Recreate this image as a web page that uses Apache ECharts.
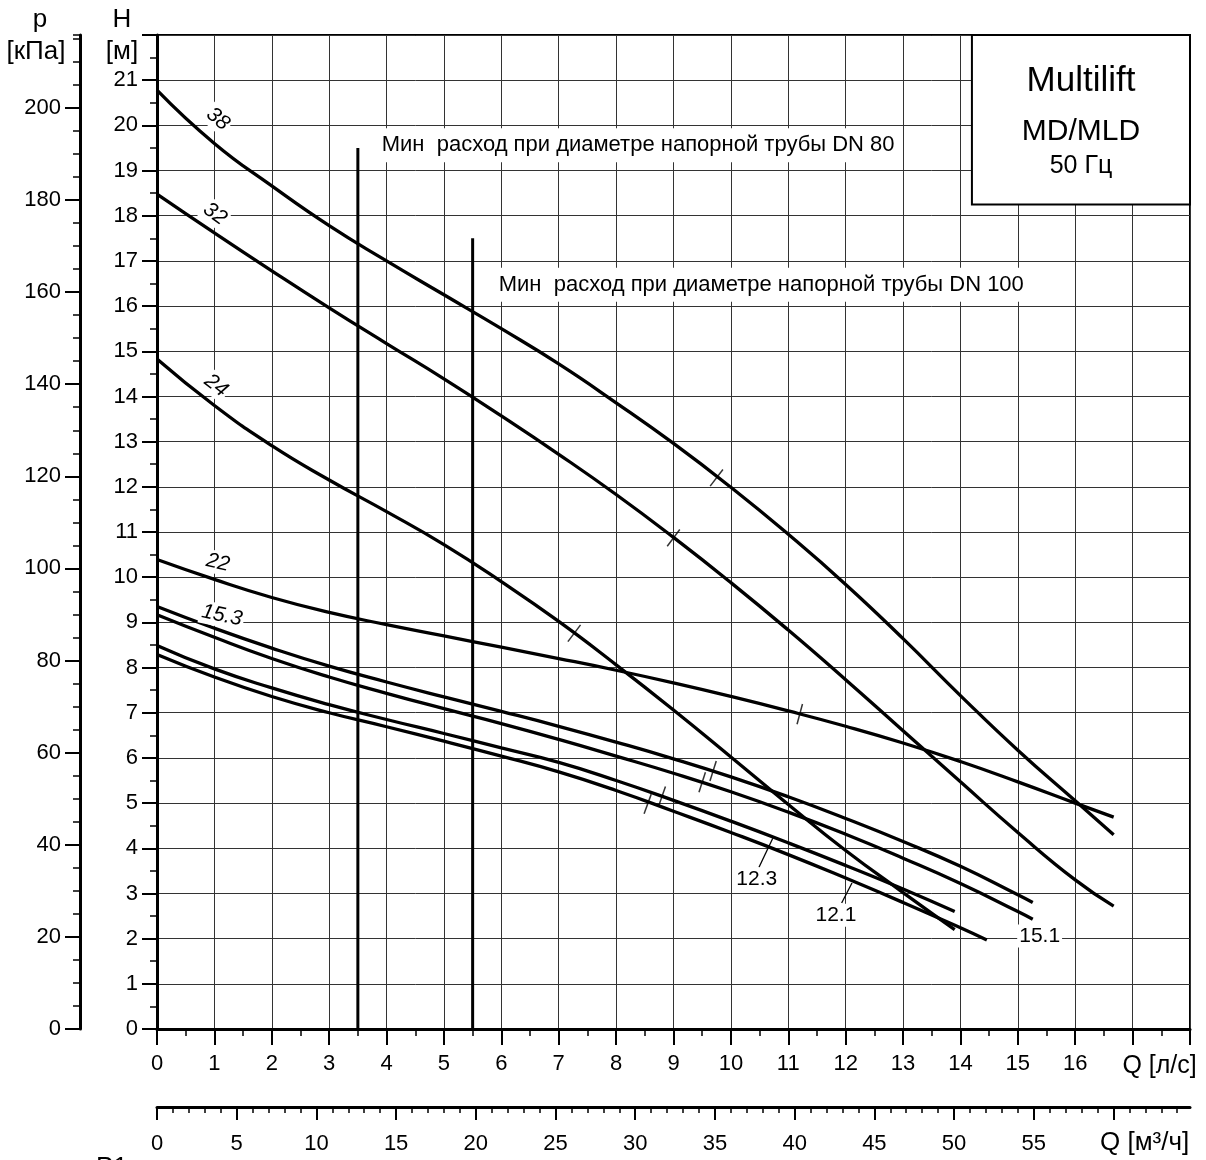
<!DOCTYPE html>
<html>
<head>
<meta charset="utf-8">
<script src="https://cdn.jsdelivr.net/npm/echarts@6/dist/echarts.min.js"></script>
<style>
  html, body { margin: 0; padding: 0; background: #fff; }
  #chart { width: 1206px; height: 1160px; }
</style>
</head>
<body>
<div id="chart"></div>
<script>
// pump curves, Q in l/s, H in m
var q38 = [0, 1, 2, 3, 4, 5, 6, 7, 8, 9, 10, 11, 12, 13, 14, 15, 16, 16.67];
var h38 = [20.78, 19.6, 18.66, 17.78, 17.0, 16.25, 15.5, 14.72, 13.86, 12.96, 11.99, 10.95, 9.84, 8.64, 7.38, 6.17, 5.05, 4.3];
var q32 = [0, 1, 2, 3, 4, 5, 6, 7, 8, 9, 10, 11, 12, 13, 14, 15, 16, 16.67];
var h32 = [18.48, 17.62, 16.78, 15.96, 15.17, 14.39, 13.57, 12.72, 11.83, 10.88, 9.88, 8.83, 7.73, 6.6, 5.47, 4.35, 3.3, 2.72];
var q24 = [0, 1, 2, 3, 4, 5, 6, 7, 8, 9, 10, 11, 12, 13, 13.9];
var h24 = [14.83, 13.8, 12.91, 12.15, 11.45, 10.72, 9.9, 9.02, 8.06, 7.06, 6.02, 4.97, 3.95, 3.02, 2.2];
var q22 = [0, 1, 2, 3, 4, 5, 6, 7, 8, 9, 10, 11, 12, 13, 14, 15, 16, 16.67];
var h22 = [10.39, 9.95, 9.55, 9.22, 8.95, 8.7, 8.45, 8.2, 7.94, 7.66, 7.36, 7.04, 6.7, 6.33, 5.92, 5.47, 5.0, 4.69];
var q153 = [0, 1, 2, 3, 4, 5, 6, 7, 8, 9, 10, 11, 12, 13, 14, 15, 15.26];
var h153 = [9.35, 8.87, 8.43, 8.03, 7.68, 7.35, 7.03, 6.7, 6.35, 5.98, 5.58, 5.14, 4.66, 4.15, 3.6, 2.97, 2.8];
var q151 = [0, 1, 2, 3, 4, 5, 6, 7, 8, 9, 10, 11, 12, 13, 14, 15, 15.26];
var h151 = [9.17, 8.67, 8.2, 7.79, 7.43, 7.09, 6.76, 6.41, 6.04, 5.66, 5.25, 4.8, 4.31, 3.78, 3.22, 2.6, 2.43];
var q123 = [0, 1, 2, 3, 4, 5, 6, 7, 8, 9, 10, 11, 12, 13, 13.9];
var h123 = [8.49, 7.97, 7.55, 7.18, 6.85, 6.54, 6.22, 5.9, 5.5, 5.06, 4.6, 4.12, 3.62, 3.1, 2.6];
var q121 = [0, 1, 2, 3, 4, 5, 6, 7, 8, 9, 10, 11, 12, 13, 14, 14.46];
var h121 = [8.29, 7.79, 7.36, 7.0, 6.69, 6.37, 6.04, 5.69, 5.28, 4.82, 4.35, 3.86, 3.34, 2.8, 2.24, 1.97];

// best efficiency marks on each curve
var bepCurve = ['38', '32', '24', '22', '15.3', '15.1', '12.3', '12.1'];
var bepQ = [9.75, 9.0, 7.27, 11.2, 9.69, 9.5, 8.8, 8.55];
var bepH = [12.2, 10.87, 8.76, 6.97, 5.71, 5.46, 5.15, 4.98];

// minimum flow lines
var minFlowQ = [3.5, 5.5];
var minFlowTop = [19.5, 17.5];
var minFlowText = ['Мин  расход при диаметре напорной трубы DN 80', 'Мин  расход при диаметре напорной трубы DN 100'];
var minFlowTextQ = [3.88, 5.92];
var minFlowTextH = [19.56, 16.47];

// curve labels
var labelText = ['38', '32', '24', '22', '15.3', '12.3', '12.1', '15.1'];
var labelQ = [1.06, 1.01, 1.03, 1.06, 1.13, 10.45, 11.83, 15.38];
var labelH = [20.14, 18.04, 14.24, 10.32, 9.15, 3.32, 2.52, 2.06];
var leaderQ = [[10.49, 10.73], [11.93, 12.11]];
var leaderH = [[3.58, 4.22], [2.79, 3.23]];

// axes
var qMax = 18;
var hMax = 22;
var pMax = hMax * 9.81;
var m3Max = qMax * 3.6;
var pMajor = [0, 20, 40, 60, 80, 100, 120, 140, 160, 180, 200];
var m3Major = [0, 5, 10, 15, 20, 25, 30, 35, 40, 45, 50, 55, 60];
var m3Labels = [0, 5, 10, 15, 20, 25, 30, 35, 40, 45, 50, 55];

// title box
var boxQ = [14.2, 18];
var boxH = [22, 18.25];
var boxLines = ['Multilift', 'MD/MLD', '50 Гц'];
var boxLineH = [20.98, 19.87, 19.1];

var FONT = '"Liberation Sans", Arial, sans-serif';

var curves = [
  { name: '38', q: q38, h: h38 },
  { name: '32', q: q32, h: h32 },
  { name: '24', q: q24, h: h24 },
  { name: '22', q: q22, h: h22 },
  { name: '15.3', q: q153, h: h153 },
  { name: '15.1', q: q151, h: h151 },
  { name: '12.3', q: q123, h: h123 },
  { name: '12.1', q: q121, h: h121 }
];

function zip(a, b) {
  return a.map(function (v, i) { return [v, b[i]]; });
}

var pMinor = [];
for (var v = 5; v < pMax; v += 5) {
  if (v % 20 !== 0) pMinor.push(v);
}
pMinor.push(pMax);
var m3Minor = [];
for (var m = 1; m < m3Max; m += 1) {
  if (m % 5 !== 0) m3Minor.push(m);
}

var chart = echarts.init(document.getElementById('chart'));

var series = curves.map(function (c) {
  return {
    type: 'line', name: c.name, data: zip(c.q, c.h),
    smooth: 0.5, symbol: 'none',
    lineStyle: { color: '#000', width: 3.3 }, z: 3, silent: true
  };
});

minFlowQ.forEach(function (q, i) {
  series.push({
    type: 'line', data: [[q, 0], [q, minFlowTop[i]]], symbol: 'none',
    lineStyle: { color: '#000', width: 3 }, z: 3, silent: true
  });
});

leaderQ.forEach(function (lq, i) {
  series.push({
    type: 'line', data: zip(lq, leaderH[i]), symbol: 'none',
    lineStyle: { color: '#000', width: 1.3 }, z: 3, silent: true
  });
});

series.push({
  id: 'bep', type: 'scatter', data: zip(bepQ, bepH),
  symbol: 'rect', symbolSize: [1.5, 21],
  itemStyle: { color: '#000' }, z: 4, silent: true
});

var tickLbl = { color: '#000', fontSize: 22, fontFamily: FONT };

var option = {
  animation: false,
  backgroundColor: '#fff',
  grid: {
    left: 157, top: 35, right: 16, bottom: 131,
    show: true, borderColor: '#000', borderWidth: 2,
    containLabel: false, outerBoundsMode: 'none'
  },
  xAxis: [
    {
      type: 'value', min: 0, max: qMax, interval: 1, position: 'bottom',
      axisLine: { onZero: false, lineStyle: { color: '#000', width: 3 } },
      axisTick: { length: 16, lineStyle: { color: '#000', width: 2 } },
      minorTick: { show: true, splitNumber: 2, length: 7, lineStyle: { color: '#000', width: 1.5 } },
      axisLabel: Object.assign({ margin: 24, formatter: function (v) { return v <= 16 ? String(v) : ''; } }, tickLbl),
      splitLine: { show: true, lineStyle: { color: '#333', width: 1 } }
    },
    {
      type: 'value', min: 0, max: m3Max, interval: 5, position: 'bottom', offset: 78,
      axisLine: { onZero: false, lineStyle: { color: '#000', width: 3 } },
      axisTick: { customValues: m3Major, length: 13, lineStyle: { color: '#000', width: 2 } },
      axisLabel: Object.assign({ margin: 26, customValues: m3Labels }, tickLbl),
      splitLine: { show: false }
    },
    {
      type: 'value', min: 0, max: m3Max, interval: 5, position: 'bottom', offset: 78,
      axisLine: { show: false, onZero: false },
      axisTick: { customValues: m3Minor, length: 6, lineStyle: { color: '#000', width: 1.5 } },
      axisLabel: { show: false },
      splitLine: { show: false }
    }
  ],
  yAxis: [
    {
      type: 'value', min: 0, max: hMax, interval: 1, position: 'left',
      axisLine: { onZero: false, lineStyle: { color: '#000', width: 3 } },
      axisTick: { length: 15, lineStyle: { color: '#000', width: 2 } },
      minorTick: { show: true, splitNumber: 2, length: 7, lineStyle: { color: '#000', width: 1.5 } },
      axisLabel: Object.assign({ margin: 19, formatter: function (v) { return v <= 21 ? String(v) : ''; } }, tickLbl),
      splitLine: { show: true, lineStyle: { color: '#333', width: 1 } }
    },
    {
      type: 'value', min: 0, max: pMax, interval: 20, position: 'left', offset: 77,
      axisLine: { onZero: false, lineStyle: { color: '#000', width: 3 } },
      axisTick: { customValues: pMajor, length: 15, lineStyle: { color: '#000', width: 2 } },
      axisLabel: Object.assign({ margin: 19, customValues: pMajor }, tickLbl),
      splitLine: { show: false }
    },
    {
      type: 'value', min: 0, max: pMax, interval: 20, position: 'left', offset: 77,
      axisLine: { show: false, onZero: false },
      axisTick: { customValues: pMinor, length: 7, lineStyle: { color: '#000', width: 1.5 } },
      axisLabel: { show: false },
      splitLine: { show: false }
    }
  ],
  series: series
};

chart.setOption(option);

function pt(q, h) {
  return chart.convertToPixel({ xAxisIndex: 0, yAxisIndex: 0 }, [q, h]);
}

// orient the BEP marks across their curve
var bepData = bepQ.map(function (q, i) {
  var c = curves.filter(function (k) { return k.name === bepCurve[i]; })[0];
  var j = 0;
  while (j < c.q.length - 2 && c.q[j + 1] < q) j++;
  var a = pt(c.q[j], c.h[j]);
  var b = pt(c.q[j + 1], c.h[j + 1]);
  var ang = Math.atan2(-(b[1] - a[1]), b[0] - a[0]) * 180 / Math.PI;
  return { value: [q, bepH[i]], symbolRotate: ang };
});

var labelRotate = [-40, -36, -38, -13, -12, 0, 0, 0];
var labelItalic = [true, true, true, true, true, false, false, false];

var g = [];
var b0 = pt(boxQ[0], boxH[0]);
var b1 = pt(boxQ[1], boxH[1]);
g.push({
  type: 'rect', z: 20,
  shape: { x: b0[0], y: b0[1], width: b1[0] - b0[0], height: b1[1] - b0[1] },
  style: { fill: '#fff', stroke: '#000', lineWidth: 2 }
});
var boxFont = [35, 30, 25];
boxLines.forEach(function (t, i) {
  var p = pt((boxQ[0] + boxQ[1]) / 2, boxLineH[i]);
  g.push({
    type: 'text', z: 21, x: p[0], y: p[1],
    style: { text: t, font: boxFont[i] + 'px ' + FONT, fill: '#000', align: 'center', verticalAlign: 'middle' }
  });
});

minFlowText.forEach(function (t, i) {
  var p = pt(minFlowTextQ[i], minFlowTextH[i]);
  g.push({
    type: 'text', z: 20, x: p[0], y: p[1],
    style: {
      text: t, font: '22px ' + FONT, fill: '#000', align: 'left', verticalAlign: 'middle',
      backgroundColor: '#fff', padding: [6, 2, 6, 2]
    }
  });
});

labelText.forEach(function (t, i) {
  var p = pt(labelQ[i], labelH[i]);
  g.push({
    type: 'text', z: 20, x: p[0], y: p[1], rotation: labelRotate[i] * Math.PI / 180,
    style: {
      text: t, font: (labelItalic[i] ? 'italic ' : '') + '21px ' + FONT, fill: '#000',
      align: 'center', verticalAlign: 'middle', backgroundColor: '#fff', padding: [1, 2, 1, 2]
    }
  });
});

// axis titles
var titles = [
  { t: 'p', x: 40, y: 20, s: 26 },
  { t: '[кПа]', x: 36, y: 52, s: 26 },
  { t: 'H', x: 122, y: 20, s: 26 },
  { t: '[м]', x: 122, y: 52, s: 26 }
];
titles.forEach(function (o) {
  g.push({
    type: 'text', z: 20, x: o.x, y: o.y,
    style: { text: o.t, font: o.s + 'px ' + FONT, fill: '#000', align: 'center', verticalAlign: 'middle' }
  });
});

var qTitle = pt(17.47, 0);
g.push({
  type: 'text', z: 20, x: qTitle[0], y: qTitle[1] + 37,
  style: { text: 'Q [л/с]', font: '25px ' + FONT, fill: '#000', align: 'center', verticalAlign: 'middle' }
});
g.push({
  type: 'text', z: 20, x: qTitle[0] - 15, y: qTitle[1] + 114,
  style: { text: 'Q [м³/ч]', font: '26px ' + FONT, fill: '#000', align: 'center', verticalAlign: 'middle' }
});
g.push({
  type: 'text', z: 20, x: 96, y: 1155,
  style: { text: 'P1', font: '26px ' + FONT, fill: '#000', align: 'left', verticalAlign: 'top' }
});

chart.setOption({
  series: [{ id: 'bep', data: bepData }],
  graphic: g
});
</script>
</body>
</html>
